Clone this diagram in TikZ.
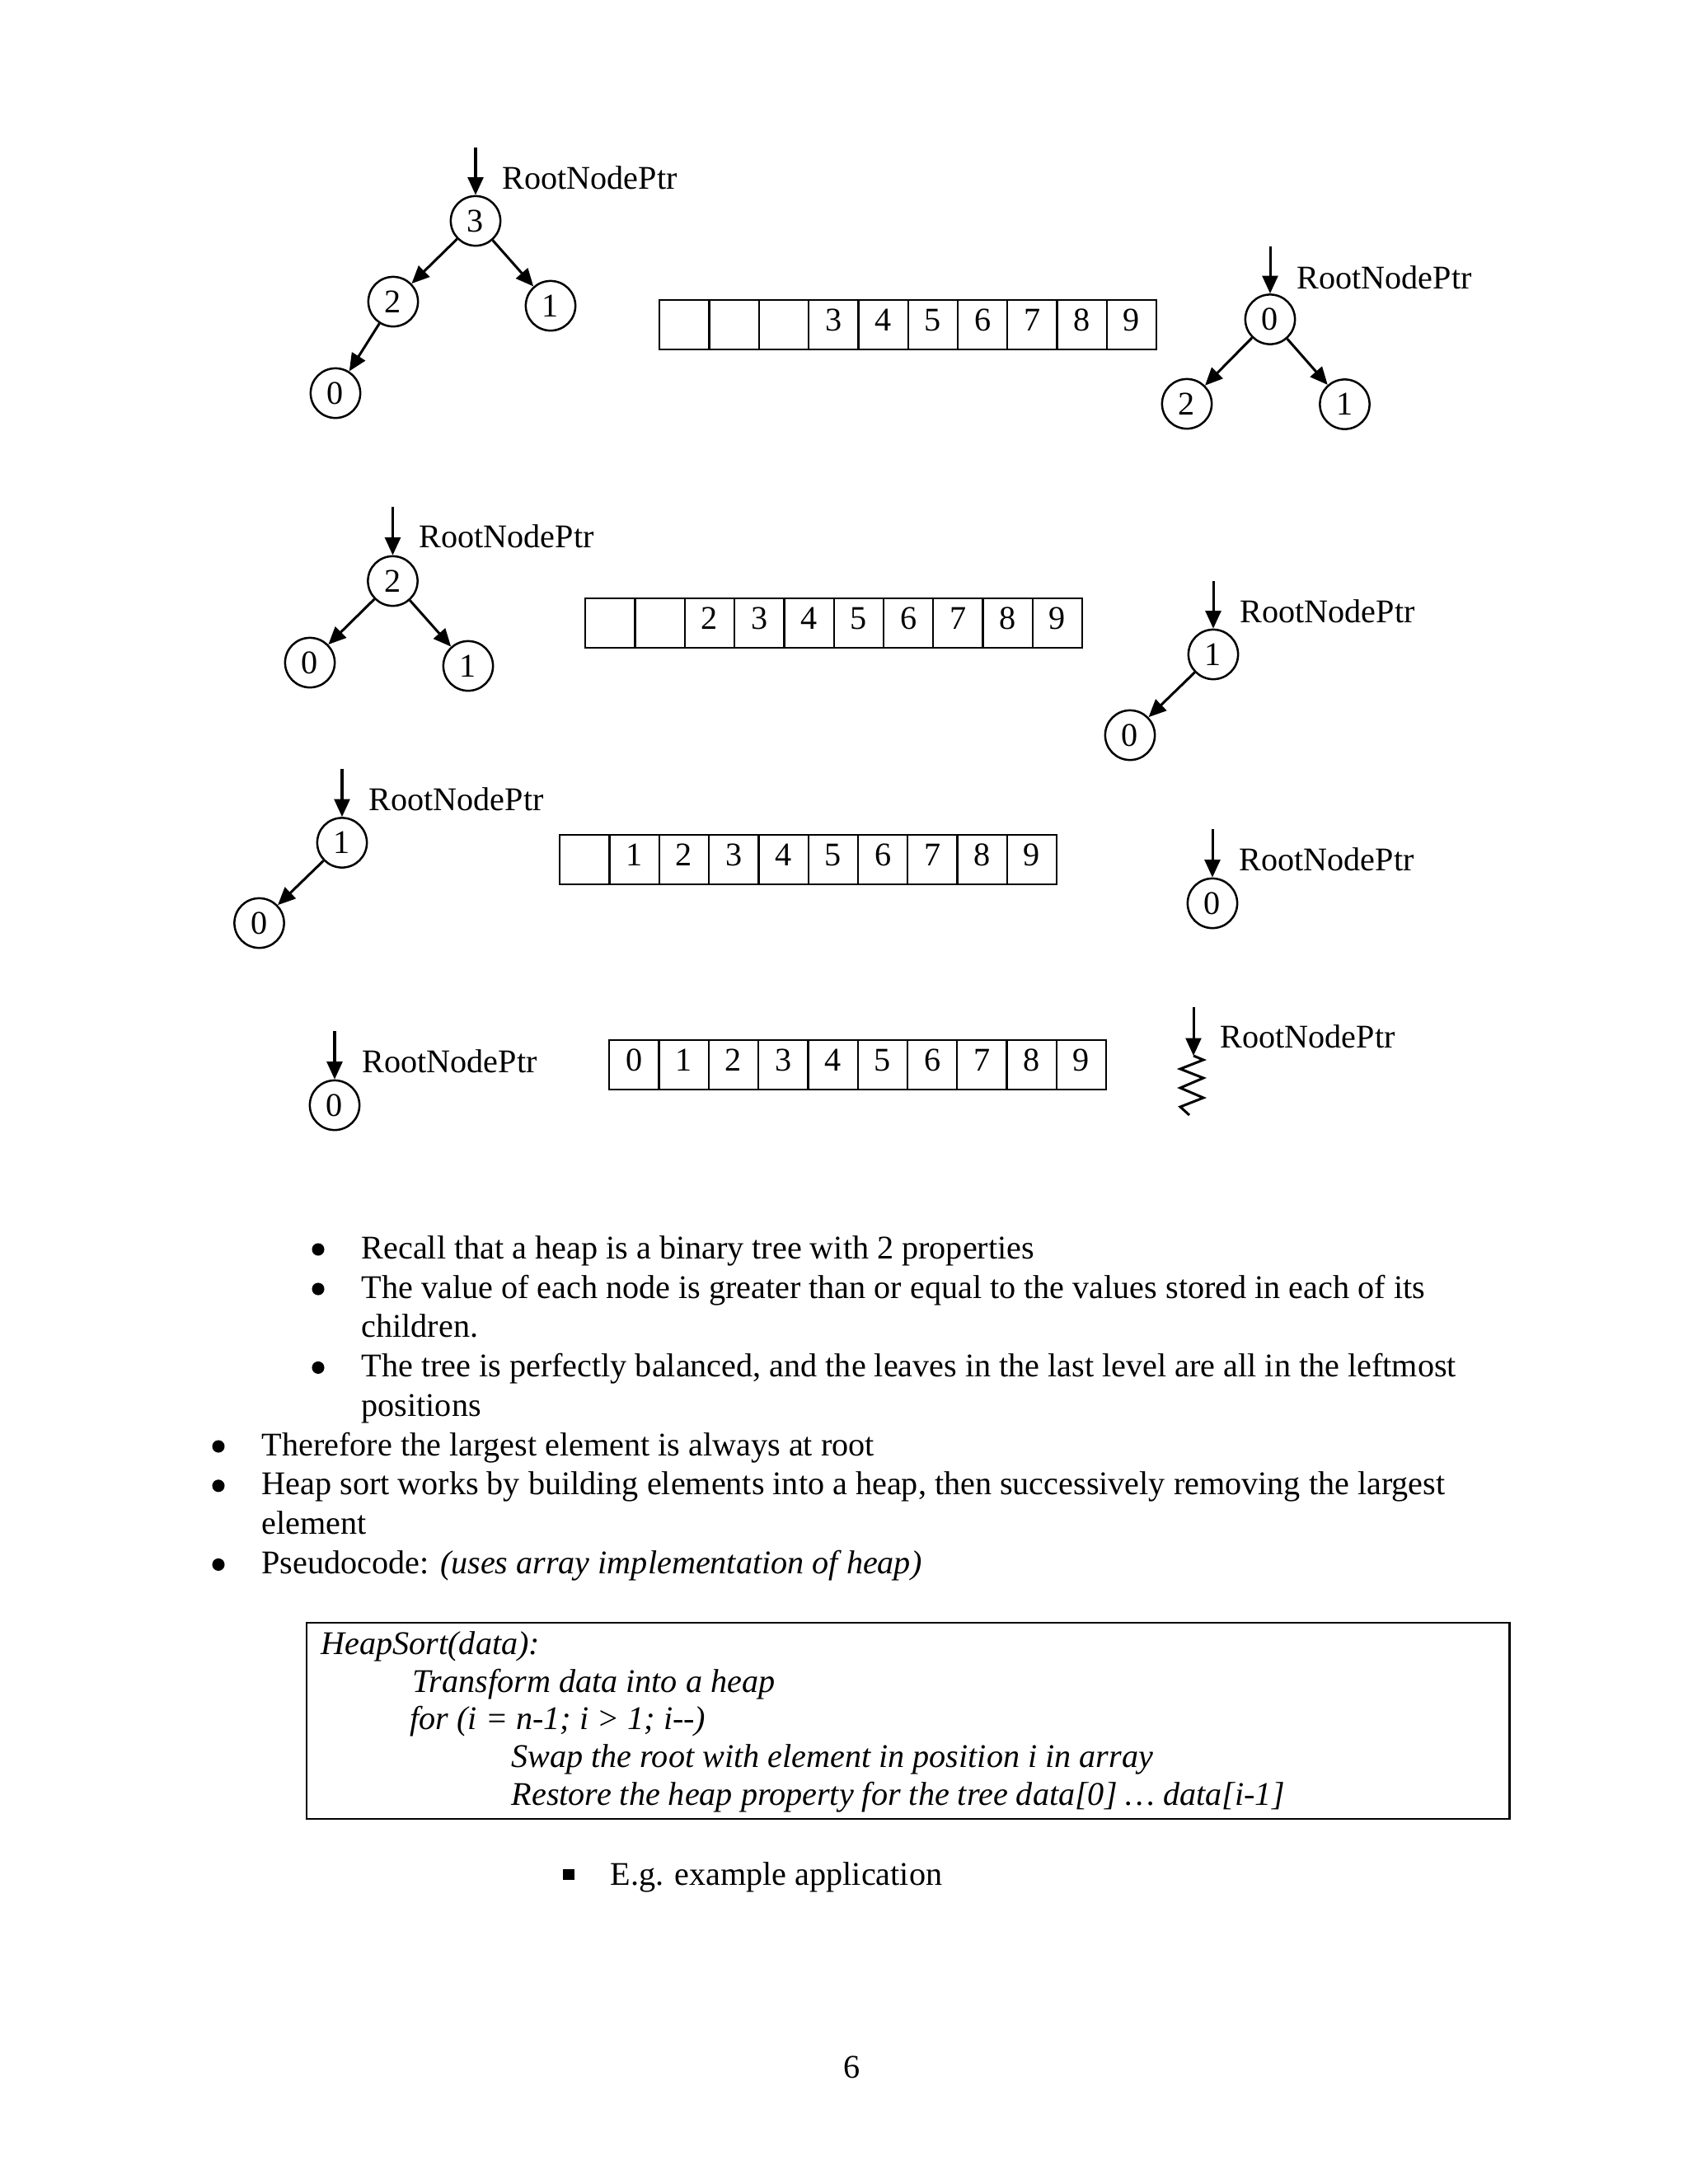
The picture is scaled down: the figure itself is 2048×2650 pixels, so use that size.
\documentclass[tikz,border=0pt]{standalone}
\usepackage{fontspec}
\setmainfont{Liberation Serif}
\usetikzlibrary{arrows.meta}
\newcommand\myarray[4]{%
  \foreach \i in {0,...,9}{%
    \node[cell] (#1c\i) at ({#2+60.3*\i},#3) {\ifnum\i<#4\relax\else\i\fi};
  }}
\begin{document}
\begin{tikzpicture}[x=0.29883pt,y=-0.29883pt,
  every node/.style={font=\fontsize{12pt}{14pt}\selectfont},
  vtx/.style={circle,draw,line width=0.75pt,minimum size=18pt,inner sep=0pt},
  cell/.style={draw,line width=0.7pt,minimum width=18.02pt,minimum height=17.93pt,
    inner sep=0pt,anchor=north west,text height=8pt,text depth=3.6pt},
  edge/.style={line width=0.9pt,-{Triangle[length=6.4pt,width=5.6pt]}},
  lbl/.style={anchor=base west,inner sep=0pt},
  dot/.style={circle,fill,inner sep=0pt,minimum size=4.5pt},
  sq/.style={rectangle,fill,inner sep=0pt,minimum size=3.9pt},
  code/.style={anchor=base west,inner sep=0pt,font=\fontsize{12pt}{14pt}\selectfont\itshape},
]
\useasboundingbox (0,0) rectangle (2048,2650);

% ---------- Row 1 left tree ----------
\node[vtx] (t1r) at (577,268) {3};
\node[vtx] (t1a) at (477,366) {2};
\node[vtx] (t1b) at (668,371) {1};
\node[vtx] (t1c) at (407,477) {0};
\coordinate (t1p) at (577,179);
\draw[edge] (t1p) -- (t1r);
\draw[edge] (t1r) -- (t1a);
\draw[edge] (t1r) -- (t1b);
\draw[edge] (t1a) -- (t1c);
\node[lbl] (t1l) at (609,229) {RootNodePtr};

% ---------- Row 1 array ----------
\myarray{a1}{799}{363}{3}

% ---------- Row 1 right tree ----------
\node[vtx] (t2r) at (1541,387.5) {0};
\node[vtx] (t2a) at (1440,490) {2};
\node[vtx] (t2b) at (1631.5,490.5) {1};
\coordinate (t2p) at (1541,299);
\draw[edge] (t2p) -- (t2r);
\draw[edge] (t2r) -- (t2a);
\draw[edge] (t2r) -- (t2b);
\node[lbl] (t2l) at (1573,350) {RootNodePtr};

% ---------- Row 2 left tree ----------
\node[vtx] (t3r) at (476.5,705) {2};
\node[vtx] (t3a) at (376,804) {0};
\node[vtx] (t3b) at (568,808) {1};
\coordinate (t3p) at (476.5,615);
\draw[edge] (t3p) -- (t3r);
\draw[edge] (t3r) -- (t3a);
\draw[edge] (t3r) -- (t3b);
\node[lbl] (t3l) at (508,664) {RootNodePtr};

% ---------- Row 2 array ----------
\myarray{a2}{709}{725}{2}

% ---------- Row 2 right tree ----------
\node[vtx] (t4r) at (1472,794) {1};
\node[vtx] (t4a) at (1371,892) {0};
\coordinate (t4p) at (1472,705);
\draw[edge] (t4p) -- (t4r);
\draw[edge] (t4r) -- (t4a);
\node[lbl] (t4l) at (1504,755) {RootNodePtr};

% ---------- Row 3 left tree ----------
\node[vtx] (t5r) at (415,1022.5) {1};
\node[vtx] (t5a) at (314.5,1120) {0};
\coordinate (t5p) at (415,933);
\draw[edge] (t5p) -- (t5r);
\draw[edge] (t5r) -- (t5a);
\node[lbl] (t5l) at (447,983) {RootNodePtr};

% ---------- Row 3 array ----------
\myarray{a3}{678}{1012}{1}

% ---------- Row 3 right tree ----------
\node[vtx] (t6r) at (1471,1096) {0};
\coordinate (t6p) at (1471,1006);
\draw[edge] (t6p) -- (t6r);
\node[lbl] (t6l) at (1503,1056) {RootNodePtr};

% ---------- Row 4 left tree ----------
\node[vtx] (t7r) at (406,1341) {0};
\coordinate (t7p) at (406,1251);
\draw[edge] (t7p) -- (t7r);
\node[lbl] (t7l) at (439,1301) {RootNodePtr};

% ---------- Row 4 array ----------
\myarray{a4}{738}{1261}{0}

% ---------- Row 4 right: null pointer ----------
\coordinate (t8p) at (1448,1222);
\coordinate (t8z) at (1448,1281);
\draw[edge] (t8p) -- (t8z);
\draw[line width=0.9pt] (t8z) -- (1460,1286) -- (1432,1297) -- (1460,1308) -- (1432,1320)
  -- (1460,1332) -- (1432,1343) -- (1443,1353);
\node[lbl] (t8l) at (1480,1271) {RootNodePtr};

% ---------- Bulleted text ----------
\node[dot] (d1) at (386,1516) {};
\node[lbl] (b1) at (438,1527) {Recall that a heap is a binary tree with 2 properties};
\node[dot] (d2) at (386,1564) {};
\node[lbl] (b2) at (438,1575) {The value of each node is greater than or equal to the values stored in each of its};
\node[lbl] (b3) at (438,1622.6) {children.};
\node[dot] (d3) at (386,1659.4) {};
\node[lbl] (b4) at (438,1670.4) {The tree is perfectly balanced, and the leaves in the last level are all in the leftmost};
\node[lbl] (b5) at (438,1718.2) {positions};
\node[dot] (d4) at (265,1755) {};
\node[lbl] (b6) at (317,1766) {Therefore the largest element is always at root};
\node[dot] (d5) at (265,1802.8) {};
\node[lbl] (b7) at (317,1813.8) {Heap sort works by building elements into a heap, then successively removing the largest};
\node[lbl] (b8) at (317,1861.6) {element};
\node[dot] (d6) at (265,1898.4) {};
\node[lbl] (b9) at (317,1909.4) {Pseudocode: \textit{(uses array implementation of heap)}};

% ---------- Pseudocode box ----------
\node[draw,line width=0.7pt,anchor=north west,inner sep=0pt,
  minimum width=436.2pt,minimum height=71.1pt] (box) at (370.5,1968) {};
\node[code] (c1) at (389,2007) {HeapSort(data):};
\node[code] (c2) at (500,2053) {Transform data into a heap};
\node[code] (c3) at (497,2098) {for (i = n-1; i > 1; i-{}-)};
\node[code] (c4) at (620,2144) {Swap the root with element in position i in array};
\node[code] (c5) at (620,2190) {Restore the heap property for the tree data[0] … data[i-1]};

% ---------- Sub bullet ----------
\node[sq] (s1) at (690,2274) {};
\node[lbl] (e1) at (740,2287) {E.g. example application};

% ---------- Page number ----------
\node[anchor=base,inner sep=0pt] (pg) at (1034,2521) {6};
\end{tikzpicture}
\end{document}
